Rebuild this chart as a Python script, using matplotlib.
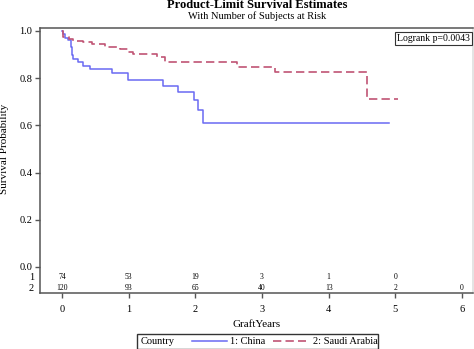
import matplotlib
matplotlib.use('Agg')
import matplotlib.pyplot as plt
from matplotlib.lines import Line2D
from matplotlib.patches import Rectangle

plt.rcParams['font.family'] = ['Liberation Serif', 'DejaVu Serif']

# survival curves (step times in years, survival probability after each step)
china_t = [0, 0.02, 0.05, 0.09, 0.13, 0.15, 0.165, 0.245, 0.32, 0.42, 0.745, 0.995, 1.51, 1.745, 1.98, 2.045, 2.11, 4.9]
china_s = [1.0, 0.985, 0.97, 0.96, 0.93, 0.90, 0.88, 0.867, 0.853, 0.839, 0.821, 0.791, 0.767, 0.741, 0.706, 0.664, 0.610, 0.610]
saudi_t = [0, 0.02, 0.1, 0.17, 0.32, 0.445, 0.645, 0.87, 0.995, 1.07, 1.42, 1.545, 2.62, 3.195, 4.57, 5.04]
saudi_s = [1.0, 0.976, 0.966, 0.959, 0.952, 0.945, 0.933, 0.924, 0.912, 0.901, 0.889, 0.870, 0.849, 0.828, 0.710, 0.710]

# numbers at risk
risk_years = [0, 1, 2, 3, 4, 5, 6]
china_risk = [74, 53, 19, 3, 1, 0]
saudi_risk = [120, 93, 65, 40, 13, 2, 0]

blue = '#6a6af2'
red = '#c05474'
axc = '#555555'

fig = plt.figure(figsize=(4.74, 3.49), dpi=100)
ax = fig.add_axes([0.0844, 0.1613, 0.9135, 0.7576])

ax.step(china_t, china_s, where='post', color=blue, lw=1.1)
ax.step(saudi_t, saudi_s, where='post', color=red, lw=1.2, dashes=(5, 2.5))

ax.set_xlim(-0.33, 6.165)
ax.set_ylim(-0.109, 1.011)
ax.set_yticks([0, 0.2, 0.4, 0.6, 0.8, 1.0])
ax.set_yticklabels(['0.0', '0.2', '0.4', '0.6', '0.8', '1.0'])
ax.set_xticks(risk_years)
ax.tick_params(axis='both', labelsize=7.5, length=3.5, width=1, color=axc, direction='out', pad=2)
ax.tick_params(axis='x', pad=5)
for sp in ax.spines.values():
    sp.set_color(axc)
    sp.set_linewidth(1.1)
ax.spines['right'].set_color('#dddddd')

# risk table inside the axes
row1, row2 = -0.044, -0.090
for x, n in zip(risk_years, china_risk):
    ax.text(x, row1, str(n), ha='center', va='center', fontsize=5.5)
for x, n in zip(risk_years, saudi_risk):
    ax.text(x, row2, str(n), ha='center', va='center', fontsize=5.5)
ax.text(-0.42, row1, '1', ha='right', va='center', fontsize=7.5)
ax.text(-0.42, row2, '2', ha='right', va='center', fontsize=7.5)

ax.text(0.993, 0.977, 'Logrank p=0.0043', transform=ax.transAxes, ha='right', va='top', fontsize=7,
        bbox=dict(boxstyle='square,pad=0.2', fc='white', ec='#333333', lw=0.8))

ax.set_xlabel('GraftYears', fontsize=8, labelpad=5)
fig.text(5 / 474, 1 - 149 / 349, 'Survival Probability', rotation=90, ha='center', va='center', fontsize=8)

fig.text(257 / 474, 1 - 5 / 349, 'Product-Limit Survival Estimates', ha='center', va='center',
         fontsize=9, fontweight='bold')
fig.text(257 / 474, 1 - 16.5 / 349, 'With Number of Subjects at Risk', ha='center', va='center', fontsize=7.5)

# legend box at the bottom
W, H = 474.0, 349.0
fig.patches.append(Rectangle((136.7 / W, 0), (378.3 - 136.7) / W, (349 - 334.3) / H,
                             transform=fig.transFigure, fill=False, ec='#333333', lw=1.0))
ly = 1 - 341 / H
fig.text(141 / W, ly, 'Country', ha='left', va='center', fontsize=7.5)
fig.add_artist(Line2D([191.7 / W, 226.7 / W], [ly, ly], transform=fig.transFigure, color=blue, lw=1.1))
fig.text(230 / W, ly, '1: China', ha='left', va='center', fontsize=7.5)
fig.add_artist(Line2D([273 / W, 306 / W], [ly, ly], transform=fig.transFigure, color=red, lw=1.2, dashes=(5, 2.5)))
fig.text(313 / W, ly, '2: Saudi Arabia', ha='left', va='center', fontsize=7.5)

fig.savefig('out.png', dpi=100)
